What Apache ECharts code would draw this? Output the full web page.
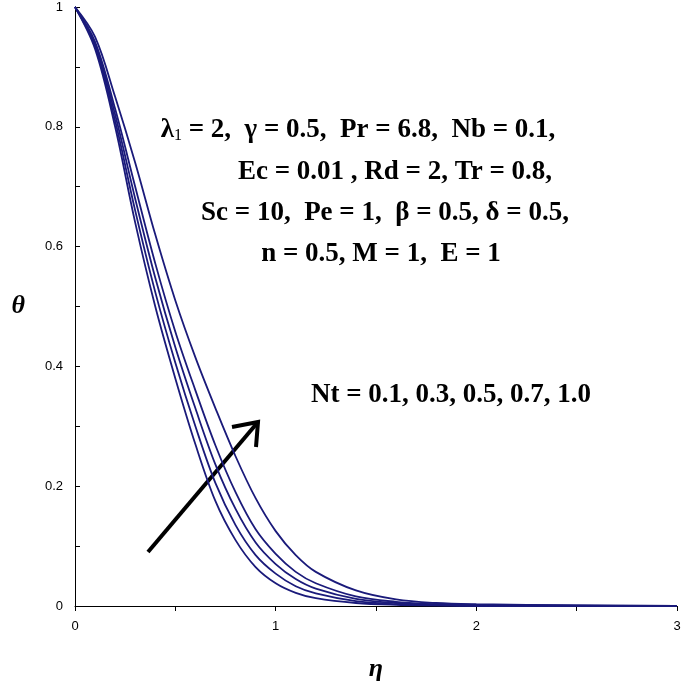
<!DOCTYPE html>
<html>
<head>
<meta charset="utf-8">
<script src="https://cdn.jsdelivr.net/npm/echarts@6/dist/echarts.min.js"></script>
<style>html,body{margin:0;padding:0;background:#fff}#main{width:685px;height:688px}</style>
</head>
<body>
<div id="main"></div>
<script>
var eta = [0, 0.1, 0.2, 0.3, 0.4, 0.5, 0.6, 0.7, 0.8, 0.9, 1.0, 1.1, 1.2, 1.4, 1.6, 1.8, 2.0, 2.5, 3.0];
var nt01 = [1, 0.93, 0.80, 0.64, 0.50, 0.38, 0.27, 0.175, 0.11, 0.065, 0.038, 0.022, 0.013, 0.005, 0.002, 0.001, 0, 0, 0];
var nt03 = [1, 0.934, 0.81, 0.66, 0.524, 0.406, 0.30, 0.205, 0.135, 0.085, 0.054, 0.033, 0.021, 0.008, 0.003, 0.001, 0.001, 0, 0];
var nt05 = [1, 0.938, 0.82, 0.68, 0.548, 0.432, 0.33, 0.236, 0.162, 0.106, 0.07, 0.045, 0.029, 0.012, 0.005, 0.002, 0.001, 0, 0];
var nt07 = [1, 0.942, 0.83, 0.70, 0.572, 0.458, 0.36, 0.268, 0.19, 0.128, 0.087, 0.057, 0.038, 0.016, 0.007, 0.003, 0.002, 0.001, 0];
var nt10 = [1, 0.95, 0.85, 0.74, 0.62, 0.51, 0.415, 0.33, 0.25, 0.18, 0.125, 0.085, 0.057, 0.026, 0.011, 0.005, 0.003, 0.001, 0];

var chart = echarts.init(document.getElementById('main'));

function mk(name, ys) {
  return {
    name: name, type: 'line', smooth: 0.35, symbol: 'none',
    data: eta.map(function (x, i) { return [x, ys[i]]; }),
    lineStyle: { color: '#1a1a7a', width: 1.8 }
  };
}

var txt = { fontFamily: 'Liberation Serif', fontWeight: 'bold', fontSize: 27, fill: '#000' };
function label(x, y, s) {
  return { type: 'text', x: x, y: y, style: Object.assign({ text: s, textAlign: 'center', textVerticalAlign: 'middle' }, txt) };
}

var option = {
  animation: false,
  grid: { left: 75, right: 8, top: 7, bottom: 82 },
  xAxis: {
    type: 'value', min: 0, max: 3, interval: 1,
    axisLine: { lineStyle: { color: '#000' } },
    axisTick: { inside: false, length: 5, lineStyle: { color: '#000' } },
    minorTick: { show: true, splitNumber: 2, length: 5, lineStyle: { color: '#000' } },
    axisLabel: { color: '#000', fontFamily: 'Liberation Sans', fontSize: 13, margin: 14 },
    splitLine: { show: false },
    name: 'η', nameLocation: 'middle', nameGap: 50,
    nameTextStyle: { fontFamily: 'Liberation Serif', fontWeight: 'bold', fontStyle: 'italic', fontSize: 26, color: '#000' }
  },
  yAxis: {
    type: 'value', min: 0, max: 1, interval: 0.2,
    axisLine: { show: true, lineStyle: { color: '#000' } },
    axisTick: { show: true, inside: true, length: 5, lineStyle: { color: '#000' } },
    minorTick: { show: true, splitNumber: 2, length: 5, lineStyle: { color: '#000' } },
    axisLabel: { color: '#000', fontFamily: 'Liberation Sans', fontSize: 13, margin: 12 },
    splitLine: { show: false },
    name: 'θ', nameLocation: 'middle', nameGap: 50, nameRotate: 0,
    nameTextStyle: { fontFamily: 'Liberation Serif', fontWeight: 'bold', fontStyle: 'italic', fontSize: 26, color: '#000' }
  },
  series: [mk('0.1', nt01), mk('0.3', nt03), mk('0.5', nt05), mk('0.7', nt07), mk('1.0', nt10)],
  graphic: [
    {
      type: 'text', x: 358, y: 130,
      style: {
        text: '{a|λ}{s|1}{a| = 2,  γ = 0.5,  Pr = 6.8,  Nb = 0.1,}',
        textAlign: 'center', textVerticalAlign: 'middle',
        rich: {
          a: { fontFamily: 'Liberation Serif', fontWeight: 'bold', fontSize: 27, color: '#000' },
          s: { fontFamily: 'Liberation Serif', fontSize: 16, color: '#000', verticalAlign: 'bottom', padding: [12, 0, 0, 0] }
        }
      }
    },
    label(395, 172, 'Ec = 0.01 , Rd = 2, Tr = 0.8,'),
    label(385, 213, 'Sc = 10,  Pe = 1,  β = 0.5, δ = 0.5,'),
    label(381, 254, 'n = 0.5, M = 1,  E = 1'),
    label(451, 395, 'Nt = 0.1, 0.3, 0.5, 0.7, 1.0'),
    { type: 'line', shape: { x1: 148, y1: 552, x2: 258, y2: 422 }, style: { stroke: '#000', lineWidth: 4 } },
    { type: 'polyline', shape: { points: [[232, 427], [258, 422], [256, 447]] }, style: { stroke: '#000', lineWidth: 4, fill: null } }
  ]
};
chart.setOption(option);
</script>
</body>
</html>
